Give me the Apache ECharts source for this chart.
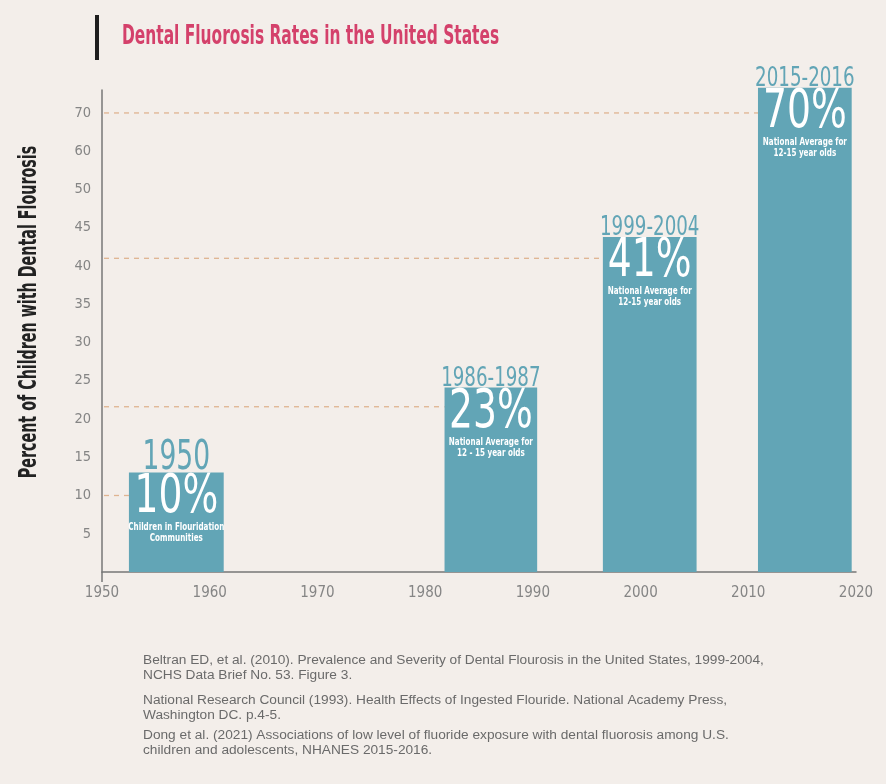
<!DOCTYPE html>
<html>
<head>
<meta charset="utf-8">
<script src="https://cdn.jsdelivr.net/npm/echarts@6/dist/echarts.min.js"></script>
<style>
  html, body { margin: 0; padding: 0; background: #f3eeea; }
  #chart { width: 886px; height: 784px; }
</style>
</head>
<body>
<div id="chart"></div>
<script>
// tick labels of the y axis (not evenly spaced in value)
var yTicks = [0, 5, 10, 15, 20, 25, 30, 35, 40, 45, 50, 60, 70];

// bars
var periods  = ['1950', '1986-1987', '1999-2004', '2015-2016'];
var rates    = [10, 23, 41, 70];
var barStart = [1952.5, 1981.8, 1996.5, 2010.9];
var barEnd   = [1961.3, 1990.4, 2005.2, 2019.6];
var barTop   = [13, 24.1, 43.8, 76.6];
var guideAt  = [10, 21.6, 41, 70];
var captions = [
  'Children in Flouridation\nCommunities',
  'National Average for\n12 - 15 year olds',
  'National Average for\n12-15 year olds',
  'National Average for\n12-15 year olds'
];

var refs = [
  'Beltran ED, et al. (2010). Prevalence and Severity of Dental Flourosis in the United States, 1999-2004,\nNCHS Data Brief No. 53. Figure 3.',
  'National Research Council (1993). Health Effects of Ingested Flouride. National Academy Press,\nWashington DC. p.4-5.',
  'Dong et al. (2021) Associations of low level of fluoride exposure with dental fluorosis among U.S.\nchildren and adolescents, NHANES 2015-2016.'
];

var COND = '"DejaVu Sans Condensed", "DejaVu Sans", sans-serif';
var BAR = '#62a5b6';
var BG = '#f3eeea';

// value -> position on the (stepped) y axis
function toSlot(v) {
  for (var i = 0; i < yTicks.length - 1; i++) {
    if (v <= yTicks[i + 1]) {
      return i + (v - yTicks[i]) / (yTicks[i + 1] - yTicks[i]);
    }
  }
  return yTicks.length - 1 + (v - yTicks[yTicks.length - 1]) / 10;
}

var barData = periods.map(function (p, i) {
  return [barStart[i], barEnd[i], toSlot(barTop[i]), toSlot(guideAt[i]), i];
});

function renderBar(params, api) {
  var i = api.value(4);
  var p0 = api.coord([api.value(0), 0]);
  var p1 = api.coord([api.value(1), api.value(2)]);
  var g = api.coord([1950, api.value(3)]);
  var top = p1[1];
  var cx = (p0[0] + p1[0]) / 2;
  var yearSize = i === 0 ? 41 : 26;
  return {
    type: 'group',
    children: [
      {
        type: 'line',
        shape: { x1: g[0] + 2, y1: g[1], x2: p0[0], y2: g[1] },
        style: { stroke: '#dfb491', lineWidth: 1.3, lineDash: [5, 5] }
      },
      {
        type: 'rect',
        shape: { x: p0[0], y: top, width: p1[0] - p0[0], height: p0[1] - top },
        style: { fill: BAR }
      },
      {
        type: 'text',
        x: cx, y: top - yearSize * 0.36 + 1,
        scaleX: i === 0 ? 0.72 : 0.78,
        style: {
          text: periods[i], fill: BAR, font: yearSize + 'px ' + COND,
          align: 'center', verticalAlign: 'middle',
          stroke: BG, lineWidth: 1
        }
      },
      {
        type: 'text',
        x: cx, y: top + 25.5,
        scaleX: 0.79,
        style: {
          text: rates[i] + '%', fill: '#ffffff', font: '53px ' + COND,
          align: 'center', verticalAlign: 'middle'
        }
      },
      {
        type: 'text',
        x: cx, y: top + 49,
        scaleX: 0.8,
        style: {
          text: captions[i], fill: '#ffffff', font: 'bold 10px ' + COND,
          align: 'center', verticalAlign: 'top', lineHeight: 11
        }
      }
    ]
  };
}

var chart = echarts.init(document.getElementById('chart'));

chart.setOption({
  backgroundColor: BG,
  animation: false,
  grid: { left: 102, right: 30, top: 90, bottom: 212 },
  xAxis: {
    type: 'value',
    min: 1950, max: 2020, interval: 10,
    axisLine: { lineStyle: { color: '#777', width: 1.5 } },
    axisTick: { show: true, length: 10, customValues: [1950], lineStyle: { color: '#777', width: 1.5 } },
    splitLine: { show: false },
    axisLabel: {
      color: '#858585', fontFamily: COND, fontSize: 15, margin: 14,
      formatter: function (v) { return String(v); }
    }
  },
  yAxis: {
    type: 'value',
    min: 0, max: 12.6, interval: 1,
    axisLine: { show: true, lineStyle: { color: '#777', width: 1.5 } },
    axisTick: { show: false },
    splitLine: { show: false },
    axisLabel: {
      color: '#858585', fontFamily: COND, fontSize: 14.5, margin: 11,
      showMaxLabel: false,
      formatter: function (v) {
        return (v > 0 && v === Math.round(v) && v < yTicks.length) ? String(yTicks[v]) : '';
      }
    }
  },
  series: [{
    type: 'custom',
    renderItem: renderBar,
    encode: { x: [0, 1], y: 2 },
    data: barData,
    clip: false
  }],
  graphic: [
    { type: 'rect', x: 95, y: 15, shape: { width: 4, height: 45 }, style: { fill: '#1e1e1e' } },
    {
      type: 'text', x: 122, y: 37, scaleX: 0.66,
      style: {
        text: 'Dental Fluorosis Rates in the United States', fill: '#d4416b',
        font: 'bold 26px ' + COND, verticalAlign: 'middle'
      }
    },
    {
      type: 'text', x: 29, y: 312, rotation: Math.PI / 2, scaleX: 0.635,
      style: {
        text: 'Percent of Children with Dental Flourosis', fill: '#222',
        font: 'bold 25px ' + COND, align: 'center', verticalAlign: 'middle'
      }
    },
    {
      type: 'text', x: 143, y: 652,
      style: { text: refs[0], fill: '#6a6a6a', font: '13.7px "Liberation Sans", sans-serif', lineHeight: 15.6 }
    },
    {
      type: 'text', x: 143, y: 692,
      style: { text: refs[1], fill: '#6a6a6a', font: '13.7px "Liberation Sans", sans-serif', lineHeight: 15.6 }
    },
    {
      type: 'text', x: 143, y: 727,
      style: { text: refs[2], fill: '#6a6a6a', font: '13.7px "Liberation Sans", sans-serif', lineHeight: 15.6 }
    }
  ]
});
</script>
</body>
</html>
